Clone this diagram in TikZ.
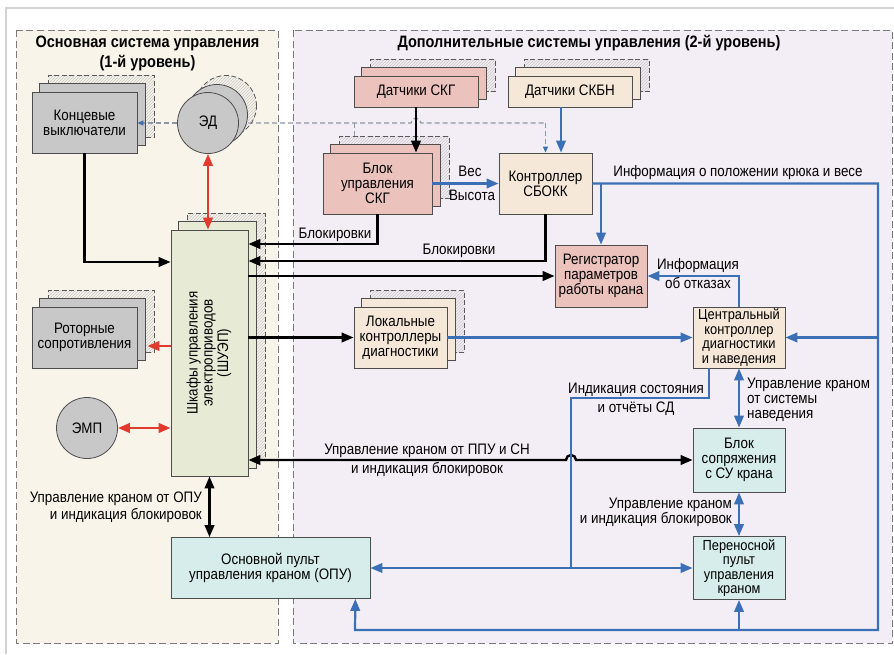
\documentclass[tikz,border=0pt]{standalone}
\usepackage{fontspec}
\setmainfont{Liberation Sans}[FakeStretch=0.88]
\usepackage{graphicx}
\usetikzlibrary{arrows.meta,calc,patterns}
\pgfdeclarelayer{bg}\pgfdeclarelayer{ln}\pgfdeclarelayer{sh}
\pgfsetlayers{bg,ln,sh,main}
\definecolor{lpanel}{HTML}{F8F4EA}
\definecolor{rpanel}{HTML}{F3EEF5}
\definecolor{gbox}{HTML}{C8C8C8}
\definecolor{pbox}{HTML}{EBC2BC}
\definecolor{bbox}{HTML}{F6E8D8}
\definecolor{grbox}{HTML}{E7EBD6}
\definecolor{cbox}{HTML}{D6EDEB}
\definecolor{ablue}{HTML}{3B6FB6}
\definecolor{ared}{HTML}{E23A2E}
\definecolor{edgec}{HTML}{4D4D4D}
\definecolor{dashc}{HTML}{8E97A8}
\definecolor{panelc}{HTML}{7A7A7A}
\definecolor{framec}{HTML}{D4D4D4}
\newcommand\fnorm{\fontsize{15.2}{15}\selectfont}
\newcommand\fsmall{\fontsize{14.6}{14.4}\selectfont}
\newcommand\ftitle{\fontsize{16.5}{20}\selectfont\bfseries}
\tikzset{
  bx/.style={draw=edgec, line width=0.8pt, inner sep=1pt, align=center, font=\fnorm},
  crc/.style={circle, draw=edgec, line width=0.8pt, fill=gbox, minimum size=61pt, inner sep=0pt, font=\fnorm},
  hatch/.style={draw=gray!70!black, dash pattern=on 5pt off 2.5pt, line width=0.8pt, pattern=north east lines, pattern color=gray!45},
  blk/.style={draw=black, line width=2.4pt},
  blu/.style={draw=ablue, line width=2.2pt},
  redl/.style={draw=ared, line width=2.4pt},
  dsh/.style={draw=dashc, line width=1.2pt, dash pattern=on 5pt off 3pt},
  lbl/.style={inner sep=0pt, font=\fnorm, text height=11pt, text depth=2pt},
  pnl/.style={draw=panelc, line width=0.9pt, dash pattern=on 7pt off 3.5pt},
  smtip/.style={-{Triangle[length=6pt,width=5pt,color=ablue]}}
}
\newcommand\mkstack[2]{%
  \begin{pgfonlayer}{sh}
  \path[hatch] ($(#1.south west)+(17,-16)$) rectangle ($(#1.north east)+(17,-16)$);
  \path[draw=edgec,line width=0.8pt,fill=#2] ($(#1.south west)+(8,-8)$) rectangle ($(#1.north east)+(8,-8)$);
  \end{pgfonlayer}}
\newcommand\mkcstack[2]{%
  \begin{pgfonlayer}{sh}
  \path[hatch] ($(#1.center)+(18,-17)$) circle[radius=30.5pt];
  \path[draw=edgec,line width=0.8pt,fill=#2] ($(#1.center)+(9,-8)$) circle[radius=30.5pt];
  \end{pgfonlayer}}
\begin{document}
\begin{tikzpicture}[x=1pt,y=-1pt,>={Triangle[length=12pt,width=9.5pt]}]
\useasboundingbox (0,0) rectangle (894,654);
\begin{pgfonlayer}{bg}
\fill[white] (0,0) rectangle (894,654);
\draw[framec, line width=2pt] (6,654) -- (6,8) -- (894,8);
\path[pnl, fill=lpanel] (16,30) rectangle (278,643);
\path[pnl, fill=rpanel] (293,30) rectangle (892,643);
\end{pgfonlayer}

% titles
\node[font=\ftitle, align=center, inner sep=0pt] (t1) at (147.5,53) {Основная система управления\\(1-й уровень)};
\node[font=\ftitle, inner sep=0pt] (t2) at (589,43) {Дополнительные системы управления (2-й уровень)};

% nodes
\node[bx, fill=gbox, minimum width=105pt, minimum height=61pt] (kv) at (84.5,122.5) {Концевые\\выключатели};
\node[bx, fill=gbox, minimum width=105pt, minimum height=61pt] (rot) at (84.5,337.5) {Роторные\\сопротивления};
\node[bx, fill=grbox, minimum width=77pt, minimum height=246pt] (shuep) at (209.5,353) {\rotatebox{90}{\begin{tabular}{@{}c@{}}Шкафы управления\\электроприводов\\(ШУЭП)\end{tabular}}};
\node[bx, fill=cbox, minimum width=199pt, minimum height=61pt] (opu) at (270.5,568) {Основной пульт\\управления краном (ОПУ)};
\node[crc] (ed) at (208,123) {ЭД};
\node[crc] (emp) at (87,428) {ЭМП};
\node[bx, fill=pbox, minimum width=124pt, minimum height=31pt] (dskg) at (416,91.5) {Датчики СКГ};
\node[bx, fill=bbox, minimum width=124pt, minimum height=31pt] (dskbn) at (570,91.5) {Датчики СКБН};
\node[bx, fill=pbox, minimum width=109pt, minimum height=61pt] (bskg) at (377.5,183.5) {Блок\\управления\\СКГ};
\node[bx, fill=bbox, minimum width=93pt, minimum height=61pt] (ctrl) at (545.5,183.5) {Контроллер\\СБОКК};
\node[bx, fill=pbox, minimum width=92pt, minimum height=62pt] (reg) at (601,276) {Регистратор\\параметров\\работы крана};
\node[bx, fill=bbox, minimum width=93pt, minimum height=61pt] (lok) at (400.5,337.5) {Локальные\\контроллеры\\диагностики};
\node[bx, fill=bbox, minimum width=92pt, minimum height=61pt, font=\fsmall] (cen) at (739,337.5) {Центральный\\контроллер\\диагностики\\и наведения};
\node[bx, fill=cbox, minimum width=92pt, minimum height=64pt] (bsop) at (739,460) {Блок\\сопряжения\\с СУ крана};
\node[bx, fill=cbox, minimum width=92pt, minimum height=63pt, font=\fsmall] (per) at (739,568) {Переносной\\пульт\\управления\\краном};

\mkstack{kv}{gbox}
\mkstack{rot}{gbox}
\mkstack{shuep}{grbox}
\mkstack{dskg}{pbox}
\mkstack{dskbn}{bbox}
\mkstack{bskg}{pbox}
\mkstack{lok}{bbox}
\mkcstack{ed}{gbox}

% dashed signal line (behind ED)
\coordinate (dl) at (ed.center -| ctrl.north);
\begin{pgfonlayer}{ln}
\draw[dsh] (ed.center) -- ($(ed.center -| dskg.south)+(-5,0)$) arc(180:360:5) -- (dl);
\draw[dsh] ($(ed.center -| bskg.north west)+(32,0)$) -- ($(bskg.north west)+(32,-16)$);
\end{pgfonlayer}
\draw[dsh, smtip] (dl) -- (ctrl.north);
\draw[dsh, smtip] (ed.west) -- (ed.west -| kv.east);

% black / red connectors
\draw[blk,->] (kv.south) |- (shuep.west |- 0,262);
\draw[redl,<->] (ed.south) -- (ed.south |- shuep.north);
\draw[redl,<->] (emp.east) -- (emp.east -| shuep.west);
\draw[redl,->] ($(shuep.west)+(0,-7)$) -- ($(rot.east)+(10,8.5)$);
\draw[blk,<->] (shuep.south) -- (shuep.south |- opu.north);
\draw[blk,->] (dskg.south) -- (dskg.south |- bskg.north);
\draw[blk,->] (bskg.south) |- (shuep.east |- 0,244);
\draw[blk,->] (ctrl.south) |- (shuep.east |- 0,261);
\draw[blk,->] (shuep.east |- reg.west) -- (reg.west);
\draw[blk,->] (shuep.east |- lok.west) -- (lok.west);
\draw[blk,<->] (shuep.east |- bsop.west) -- (566,460) arc(180:360:5) -- (bsop.west);

% blue connectors
\draw[blu,->] ($(dskbn.south)+(-9,0)$) -- ($(ctrl.north)+(15.5,0)$);
\draw[blu,->] (bskg.east) -- (ctrl.west);
\draw[blu,->] (lok.east) -- (cen.west);
\draw[blu,->] (cen.north) |- (reg.east);
\coordinate (i3) at (571,568);
\draw[blu] ($(cen.south)+(-30,0)$) |- (571,398) -- (i3);
\draw[blu,->] (i3) -- (opu.east);
\draw[blu,->] (i3) -- (per.west);
\draw[blu,<->] (cen.south) -- (bsop.north);
\draw[blu,<->] (bsop.south) -- (per.north);
\coordinate (cR) at (878,183.5);
\coordinate (cB) at (878,630);
\draw[blu,->] (ctrl.east) -- (cR) -- (cB) -- (355,630) -- ($(opu.south east)+(-15,0)$);
\draw[blu,->] (per.south |- cB) -- (per.south);
\draw[blu,->] (cen.east -| cR) -- (cen.east);
\draw[blu,->] (reg.north |- ctrl.east) -- (reg.north);

% labels
\node[lbl] (lb1) at (335,234) {Блокировки};
\node[lbl] (lb2) at (459,250) {Блокировки};
\node[lbl] (lves) at (470,172) {Вес};
\node[lbl] (lvys) at (472,196) {Высота};
\node[lbl] (linf) at (738,172) {Информация о положении крюка и весе};
\node[lbl] (lotk1) at (698,265) {Информация};
\node[lbl] (lotk2) at (698,284) {об отказах};
\node[lbl] (lind1) at (636,389) {Индикация состояния};
\node[lbl] (lind2) at (636,408) {и отчёты СД};
\node[lbl, align=left, anchor=west, text height=, text depth=] (lnav) at (747,400) {Управление краном\\от системы\\наведения};
\node[lbl, align=right, anchor=east, text height=, text depth=] (lpp) at (732,512.5) {Управление краном\\и индикация блокировок};
\node[lbl] (lppu1) at (427,450) {Управление краном от ППУ и СН};
\node[lbl] (lppu2) at (427,469) {и индикация блокировок};
\node[lbl, anchor=east] (lopu1) at (202,498) {Управление краном от ОПУ};
\node[lbl, anchor=east] (lopu2) at (202,515) {и индикация блокировок};
\end{tikzpicture}
\end{document}
